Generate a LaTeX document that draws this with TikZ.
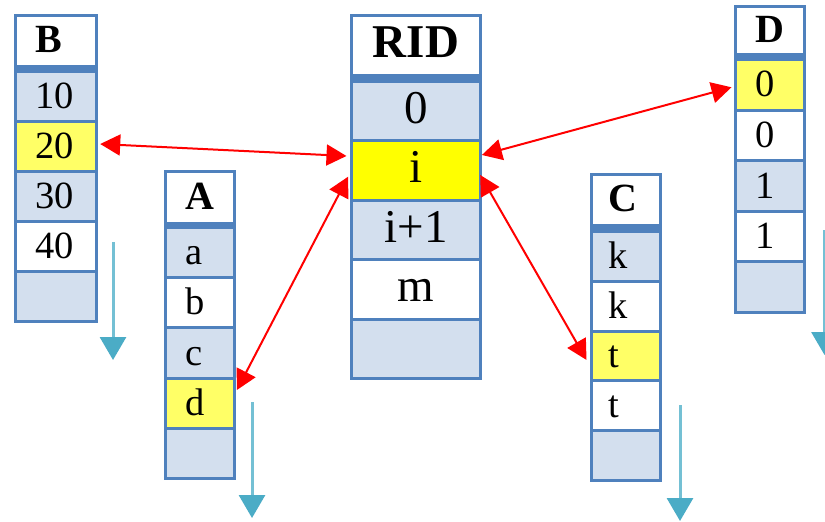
\documentclass[tikz,border=0pt]{standalone}
\usepackage{fontspec}
\setmainfont{Liberation Serif}
\usetikzlibrary{arrows.meta,calc}
\definecolor{gridblue}{HTML}{4F81BD}
\definecolor{bandblue}{HTML}{D3DFEE}
\definecolor{softyellow}{HTML}{FFFF66}
\definecolor{pureyellow}{HTML}{FFFF00}
\definecolor{linkred}{HTML}{FF0000}
\definecolor{flowshaft}{HTML}{74C0D4}
\definecolor{flowhead}{HTML}{4BACC6}
\newcommand\tblcellfont{\fontsize{38.5}{40}\selectfont}
\newcommand\tblheadfont{\fontsize{40}{42}\selectfont\bfseries}
\newcommand\ridcellfont{\fontsize{47}{50}\selectfont}
\newcommand\ridheadfont{\fontsize{47}{50}\selectfont\bfseries}
\begin{document}
\begin{tikzpicture}[x=1pt,y=-1pt,
  frame/.style={fill=gridblue},
  cell/.style={rectangle, inner ysep=0pt, align=left},
  widecol/.style={text width=42pt, inner xsep=18pt},
  narrowcol/.style={text width=30pt, inner xsep=18pt},
  tightcol/.style={text width=36pt, inner xsep=15pt},
  ridcol/.style={rectangle, inner sep=0pt, minimum width=126pt},
  headtext/.style={font=\tblheadfont, text height=27pt, text depth=4pt, fill=white},
  rowtext/.style={font=\tblcellfont, text height=26pt, text depth=2pt},
  ridhead/.style={font=\ridheadfont, text height=31pt, text depth=7.4pt, fill=white},
  ridrow/.style={font=\ridcellfont, text height=32pt, text depth=8pt},
  link/.style={draw=linkred, line width=2pt,
    {Triangle[length=20pt,width=21pt]}-{Triangle[length=20pt,width=21pt]}},
  flow/.style={draw=flowshaft, line width=3pt,
    -{Triangle[length=23pt,width=26pt,color=flowhead]}}
]
\useasboundingbox[fill=white] (0,0) rectangle (825,522);

% table B
\fill[frame] (14,14) rectangle (98,323);
\node[cell, widecol, headtext, minimum height=48pt] (B0) at (56,41) {B};
\foreach \k/\f/\t [evaluate=\k as \yc using 73+50*(\k-1)+23.5] in
  {1/bandblue/10, 2/softyellow/20, 3/bandblue/30, 4/white/40, 5/bandblue/{}}
  \node[cell, widecol, rowtext, fill=\f, minimum height=47pt] (B\k) at (56,\yc) {\t};

% table A
\fill[frame] (164,170) rectangle (236,480);
\node[cell, narrowcol, headtext, minimum height=49pt] (A0) at (200,197.5) {A};
\foreach \k/\f/\t [evaluate=\k as \yc using 229+50.2*(\k-1)+23.6] in
  {1/bandblue/a, 2/white/b, 3/bandblue/c, 4/softyellow/d, 5/bandblue/{}}
  \node[cell, narrowcol, rowtext, fill=\f, minimum height=47.2pt] (A\k) at (200,\yc) {\t};

% table RID
\fill[frame] (350,14) rectangle (482,380);
\node[ridcol, ridhead, minimum height=57pt] (R0) at (416,45.5) {RID};
\foreach \k/\f/\t [evaluate=\k as \yc using 83+59.4*(\k-1)+28.2] in
  {1/bandblue/0, 2/pureyellow/i, 3/bandblue/i+1, 4/white/m, 5/bandblue/{}}
  \node[ridcol, ridrow, fill=\f, minimum height=56.4pt] (R\k) at (416,\yc) {\t};

% table C
\fill[frame] (590,173) rectangle (662,482.2);
\node[cell, tightcol, headtext, minimum height=48pt] (C0) at (626,200) {C};
\foreach \k/\f/\t [evaluate=\k as \yc using 232.7+49.9*(\k-1)+23.45] in
  {1/bandblue/k, 2/white/k, 3/softyellow/t, 4/white/t, 5/bandblue/{}}
  \node[cell, tightcol, rowtext, fill=\f, minimum height=46.9pt] (C\k) at (626,\yc) {\t};

% table D
\fill[frame] (734,5) rectangle (806,314);
\node[cell, narrowcol, headtext, minimum height=45pt] (D0) at (770,30.5) {D};
\foreach \k/\f/\t [evaluate=\k as \yc using 61+50.6*(\k-1)+23.8] in
  {1/softyellow/0, 2/white/0, 3/bandblue/1, 4/white/1, 5/bandblue/{}}
  \node[cell, narrowcol, rowtext, fill=\f, minimum height=47.6pt] (D\k) at (770,\yc) {\t};

% links between the selected rows
\draw[link] ([shift={(5,-2.5)}]B2.east) -- ([shift={(-6.3,-14.6)}]R2.west);
\draw[link] ([shift={(2.7,-15.6)}]R2.east) -- ([shift={(-5.3,2.5)}]D1.west);
\draw[link] ([shift={(-4.7,6.1)}]R2.west) -- ([shift={(3.7,-13.2)}]A4.east);
\draw[link] ([shift={(1,4.4)}]R2.east) -- ([shift={(-6.3,4)}]C3.west);

% scan direction arrows
\coordinate (Btop) at (113,242);  \coordinate (Bend) at (113,360);
\coordinate (Atop) at (252,402);  \coordinate (Aend) at (252,518);
\coordinate (Ctop) at (680,405);  \coordinate (Cend) at (680,521);
\coordinate (Dtop) at (824.5,230); \coordinate (Dend) at (824.5,355);
\draw[flow] (Btop) -- (Bend);
\draw[flow] (Atop) -- (Aend);
\draw[flow] (Ctop) -- (Cend);
\draw[flow] (Dtop) -- (Dend);
\end{tikzpicture}
\end{document}
